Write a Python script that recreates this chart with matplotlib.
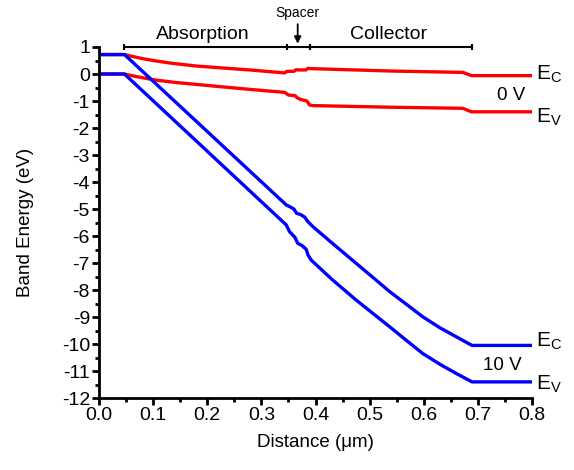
import matplotlib
matplotlib.use("Agg")
import matplotlib.pyplot as plt
from matplotlib.ticker import MultipleLocator, FormatStrFormatter

plt.rcParams['font.family'] = ['Liberation Sans', 'DejaVu Sans']
plt.rcParams['mathtext.default'] = 'regular'

# 0 V band edges
x_ec0 = [0, 0.047, 0.06, 0.08, 0.103, 0.13, 0.177, 0.23, 0.279, 0.343, 0.347, 0.360, 0.364, 0.368, 0.382, 0.386, 0.390, 0.54, 0.672, 0.688, 0.8]
y_ec0 = [0.72, 0.72, 0.66, 0.57, 0.49, 0.41, 0.30, 0.22, 0.15, 0.04, 0.10, 0.10, 0.16, 0.15, 0.15, 0.21, 0.20, 0.11, 0.06, -0.06, -0.06]
x_ev0 = [0, 0.047, 0.07, 0.103, 0.14, 0.177, 0.23, 0.279, 0.343, 0.350, 0.362, 0.366, 0.372, 0.384, 0.389, 0.395, 0.54, 0.672, 0.688, 0.8]
y_ev0 = [0, 0, -0.10, -0.22, -0.31, -0.38, -0.48, -0.57, -0.68, -0.78, -0.80, -0.88, -0.94, -1.00, -1.15, -1.17, -1.23, -1.27, -1.40, -1.40]

# 10 V band edges
x_ec10 = [0, 0.047, 0.346, 0.352, 0.360, 0.365, 0.372, 0.380, 0.386, 0.395, 0.43, 0.475, 0.51, 0.537, 0.57, 0.598, 0.63, 0.660, 0.689, 0.8]
y_ec10 = [0.72, 0.72, -4.85, -4.91, -5.0, -5.16, -5.2, -5.3, -5.47, -5.65, -6.25, -7.01, -7.60, -8.06, -8.56, -8.99, -9.40, -9.73, -10.05, -10.05]
x_ev10 = [0, 0.047, 0.346, 0.352, 0.362, 0.367, 0.375, 0.383, 0.386, 0.392, 0.43, 0.475, 0.51, 0.537, 0.57, 0.598, 0.63, 0.660, 0.689, 0.8]
y_ev10 = [0, 0, -5.59, -5.84, -6.05, -6.27, -6.35, -6.5, -6.70, -6.89, -7.60, -8.37, -8.93, -9.36, -9.90, -10.35, -10.75, -11.09, -11.40, -11.40]

# region boundaries
regions = ["Absorption", "Spacer", "Collector"]
bounds = [0.047, 0.347, 0.389, 0.689]

fig = plt.figure(figsize=(5.74, 4.70), dpi=100)
ax = fig.add_axes([0.1725, 0.153, 0.927 - 0.1725, 0.9 - 0.153])

lw = 2.4
ax.plot(x_ec0, y_ec0, color='#ff0000', lw=lw)
ax.plot(x_ev0, y_ev0, color='#ff0000', lw=lw)
ax.plot(x_ec10, y_ec10, color='#0000ff', lw=lw)
ax.plot(x_ev10, y_ev10, color='#0000ff', lw=lw)

ax.set_xlim(0, 0.8)
ax.set_ylim(-12, 1)
ax.xaxis.set_major_locator(MultipleLocator(0.1))
ax.xaxis.set_minor_locator(MultipleLocator(0.05))
ax.yaxis.set_major_locator(MultipleLocator(1))
ax.yaxis.set_minor_locator(MultipleLocator(0.5))
ax.xaxis.set_major_formatter(FormatStrFormatter('%.1f'))
ax.yaxis.set_major_formatter(FormatStrFormatter('%d'))

for s in ['top', 'right']:
    ax.spines[s].set_visible(False)
for s in ['left', 'bottom']:
    ax.spines[s].set_linewidth(2)
ax.tick_params(which='major', direction='out', length=5, width=2, labelsize=14, pad=1.5)
ax.tick_params(which='minor', direction='out', length=3, width=2)

ax.set_xlabel('Distance (μm)', fontsize=13.5, labelpad=7)
ax.set_ylabel('Band Energy (eV)', fontsize=13.5)
ax.yaxis.set_label_coords(-0.15, 0.5)

# dimension bars
ybar = 1.0
for i in range(3):
    ax.plot([bounds[i], bounds[i + 1]], [ybar, ybar], color='black', lw=1.5,
            marker='|', markersize=5, markeredgewidth=1.5, clip_on=False)
ax.text((bounds[0] + bounds[1]) / 2 - 0.005, 1.15, regions[0], ha='center', va='bottom', fontsize=14)
ax.text((bounds[2] + bounds[3]) / 2 - 0.005, 1.15, regions[2], ha='center', va='bottom', fontsize=14)
ax.text(0.367, 2.0, regions[1], ha='center', va='bottom', fontsize=10)
ax.annotate('', xy=(0.367, 1.02), xytext=(0.367, 1.95), annotation_clip=False,
            arrowprops=dict(arrowstyle='-|>', color='black', lw=1.3, mutation_scale=10))

# band labels
lab_fs = 15
ax.text(0.808, 0.0, 'E$_C$', fontsize=lab_fs, ha='left', va='center', clip_on=False)
ax.text(0.808, -1.6, 'E$_V$', fontsize=lab_fs, ha='left', va='center', clip_on=False)
ax.text(0.762, -0.78, '0 V', fontsize=13.5, ha='center', va='center')
ax.text(0.808, -9.9, 'E$_C$', fontsize=lab_fs, ha='left', va='center', clip_on=False)
ax.text(0.808, -11.5, 'E$_V$', fontsize=lab_fs, ha='left', va='center', clip_on=False)
ax.text(0.745, -10.78, '10 V', fontsize=13.5, ha='center', va='center')

fig.savefig('out.png', dpi=100)
